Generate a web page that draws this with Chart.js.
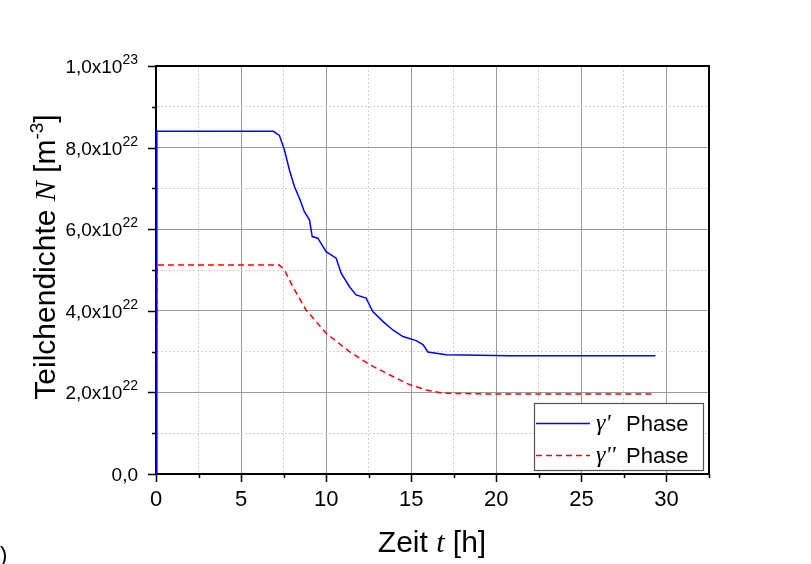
<!DOCTYPE html>
<html>
<head>
<meta charset="utf-8">
<script src="https://cdn.jsdelivr.net/npm/chart.js@4.4.1/dist/chart.umd.min.js"></script>
<style>
  html, body { margin: 0; padding: 0; background: #fff; }
  canvas { display: block; }
</style>
</head>
<body>
<canvas id="myChart" width="811" height="564"></canvas>
<script>
"use strict";

// Zeit t [h] und Teilchendichte in Einheiten von 1e22 m^-3
let tGammaPrime = [0, 0.05, 6.9, 7.25, 7.55, 7.84, 8.14, 8.43, 8.72, 9.02, 9.18, 9.51, 10.0, 10.59, 10.88, 11.37, 11.76, 12.35, 12.74, 13.33, 13.92, 14.51, 15.29, 15.69, 15.98, 17.06, 20.8, 29.35];
let nGammaPrime = [0, 8.4, 8.4, 8.3, 7.94, 7.45, 7.04, 6.76, 6.43, 6.23, 5.82, 5.78, 5.45, 5.29, 4.92, 4.59, 4.39, 4.31, 3.98, 3.74, 3.53, 3.37, 3.27, 3.17, 2.99, 2.92, 2.9, 2.9];

let tGammaDoublePrime = [0, 0.05, 7.25, 7.55, 8.04, 8.82, 10.0, 11.37, 12.55, 13.92, 14.9, 15.88, 16.86, 19.8, 29.35];
let nGammaDoublePrime = [0, 5.12, 5.12, 5.0, 4.59, 4.02, 3.45, 3.0, 2.68, 2.39, 2.19, 2.06, 1.98, 1.96, 1.96];

let seriesLabels = ["γ'  Phase", "γ'' Phase"];
let xTickValues = [0, 5, 10, 15, 20, 25, 30];
let yTickLabels = { 0: ["0,0", ""], 2: ["2,0x10", "22"], 4: ["4,0x10", "22"], 6: ["6,0x10", "22"], 8: ["8,0x10", "22"], 10: ["1,0x10", "23"] };

let sans = "'Liberation Sans', Arial, sans-serif";
let serif = "'Liberation Serif', 'Times New Roman', serif";

function toPoints(xs, ys) {
  let pts = [];
  for (let i = 0; i < xs.length; i++) {
    pts.push({ x: xs[i], y: ys[i] });
  }
  return pts;
}

function isMajorX(v) {
  return Math.abs(v % 5) < 1e-6;
}

function isMajorY(v) {
  return Math.abs(v % 2) < 1e-6;
}

// draws a row of text pieces [text, font, dy] starting at x
function drawPieces(ctx, pieces, x, y) {
  for (let i = 0; i < pieces.length; i++) {
    ctx.font = pieces[i][1];
    ctx.fillText(pieces[i][0], x, y + (pieces[i][2] || 0));
    x += ctx.measureText(pieces[i][0]).width;
  }
  return x;
}

function piecesWidth(ctx, pieces) {
  let w = 0;
  for (let i = 0; i < pieces.length; i++) {
    ctx.font = pieces[i][1];
    w += ctx.measureText(pieces[i][0]).width;
  }
  return w;
}

let framePlugin = {
  id: "frame",
  afterDraw(chart) {
    let ctx = chart.ctx;
    let area = chart.chartArea;
    let xScale = chart.scales.x;
    let yScale = chart.scales.y;
    ctx.save();

    // top and right frame
    ctx.strokeStyle = "#000";
    ctx.lineWidth = 2;
    ctx.beginPath();
    ctx.moveTo(area.left, area.top);
    ctx.lineTo(area.right, area.top);
    ctx.lineTo(area.right, area.bottom);
    ctx.stroke();

    // outward ticks
    ctx.lineWidth = 1.5;
    ctx.beginPath();
    xScale.ticks.forEach(function (t) {
      let px = Math.round(xScale.getPixelForValue(t.value)) + 0.5;
      let len = isMajorX(t.value) ? 8 : 4;
      ctx.moveTo(px, area.bottom);
      ctx.lineTo(px, area.bottom + len);
    });
    yScale.ticks.forEach(function (t) {
      let py = Math.round(yScale.getPixelForValue(t.value)) + 0.5;
      let len = isMajorY(t.value) ? 8 : 4;
      ctx.moveTo(area.left, py);
      ctx.lineTo(area.left - len, py);
    });
    ctx.stroke();

    // y tick labels with exponent
    ctx.fillStyle = "#000";
    ctx.textBaseline = "alphabetic";
    ctx.textAlign = "left";
    yScale.ticks.forEach(function (t) {
      let lab = yTickLabels[Math.round(t.value)];
      if (!isMajorY(t.value) || !lab) return;
      let py = yScale.getPixelForValue(t.value);
      let right = area.left - 18;
      ctx.font = "14px " + sans;
      let ew = ctx.measureText(lab[1]).width;
      ctx.fillText(lab[1], right - ew, py - 2);
      ctx.font = "19px " + sans;
      let mw = ctx.measureText(lab[0]).width;
      ctx.fillText(lab[0], right - ew - mw, py + 7);
    });

    // y axis title
    let yPieces = [
      ["Teilchendichte ", "30px " + sans],
      ["N", "italic 30px " + serif],
      [" [m", "30px " + sans],
      ["-3", "19px " + sans, -12],
      ["]", "30px " + sans]
    ];
    ctx.save();
    ctx.translate(55, 257);
    ctx.rotate(-Math.PI / 2);
    drawPieces(ctx, yPieces, -piecesWidth(ctx, yPieces) / 2, 0);
    ctx.restore();

    // x axis title
    let xPieces = [
      ["Zeit ", "30px " + sans],
      ["t", "italic 30px " + serif],
      [" [h]", "30px " + sans]
    ];
    drawPieces(ctx, xPieces, 432 - piecesWidth(ctx, xPieces) / 2, 552);

    // legend box
    let box = { left: 534, top: 403, right: 703, bottom: 470 };
    ctx.fillStyle = "#fff";
    ctx.fillRect(box.left, box.top, box.right - box.left, box.bottom - box.top);
    ctx.strokeStyle = "#555";
    ctx.lineWidth = 1.2;
    ctx.strokeRect(box.left + 0.5, box.top + 0.5, box.right - box.left, box.bottom - box.top);
    let rows = [423, 455];
    chart.data.datasets.forEach(function (ds, i) {
      let y = rows[i];
      ctx.strokeStyle = ds.borderColor;
      ctx.lineWidth = ds.borderWidth;
      ctx.setLineDash(ds.borderDash || []);
      ctx.beginPath();
      ctx.moveTo(box.left + 2, y + 0.5);
      ctx.lineTo(590, y + 0.5);
      ctx.stroke();
      ctx.setLineDash([]);
      let parts = seriesLabels[i].split(" ");
      ctx.fillStyle = "#000";
      ctx.font = "italic 24px " + serif;
      ctx.fillText(parts[0], 596, y + 7);
      ctx.font = "22px " + sans;
      ctx.fillText(parts[parts.length - 1], 626, y + 8);
    });

    // cut-off panel label at the bottom left
    ctx.font = "22px " + sans;
    ctx.fillText(")", 0, 562);

    ctx.restore();
  }
};

let ctx = document.getElementById("myChart").getContext("2d");
let myChart = new Chart(ctx, {
  type: "line",
  data: {
    datasets: [
      {
        label: seriesLabels[0],
        data: toPoints(tGammaPrime, nGammaPrime),
        borderColor: "#0000ff",
        borderWidth: 1.5,
        pointRadius: 0,
        fill: false,
        tension: 0
      },
      {
        label: seriesLabels[1],
        data: toPoints(tGammaDoublePrime, nGammaDoublePrime),
        borderColor: "#ff0000",
        borderWidth: 1.5,
        borderDash: [6, 4],
        pointRadius: 0,
        fill: false,
        tension: 0
      }
    ]
  },
  options: {
    responsive: false,
    animation: false,
    layout: { padding: { top: 66, right: 102, left: 0, bottom: 0 } },
    plugins: {
      legend: { display: false },
      tooltip: { enabled: false }
    },
    scales: {
      x: {
        type: "linear",
        min: 0,
        max: 32.5,
        afterFit: function (s) { s.height = 90; },
        ticks: {
          stepSize: 2.5,
          autoSkip: false,
          maxRotation: 0,
          padding: 13,
          color: "#000",
          font: { family: sans, size: 22 },
          callback: function (v) { return xTickValues.indexOf(v) >= 0 ? String(v) : ""; }
        },
        grid: {
          drawTicks: false,
          color: function (c) { return c.tick && isMajorX(c.tick.value) ? "#9a9a9a" : "#cfcfcf"; },
          lineWidth: 1
        },
        border: {
          color: "#000",
          width: 2,
          dash: function (c) { return c.tick && !isMajorX(c.tick.value) ? [2, 2] : []; }
        }
      },
      y: {
        type: "linear",
        min: 0,
        max: 10,
        afterFit: function (s) { s.width = 156; },
        ticks: {
          stepSize: 1,
          display: false
        },
        grid: {
          drawTicks: false,
          color: function (c) { return c.tick && isMajorY(c.tick.value) ? "#9a9a9a" : "#cfcfcf"; },
          lineWidth: 1
        },
        border: {
          color: "#000",
          width: 2,
          dash: function (c) { return c.tick && !isMajorY(c.tick.value) ? [2, 2] : []; }
        }
      }
    }
  },
  plugins: [framePlugin]
});
</script>
</body>
</html>
